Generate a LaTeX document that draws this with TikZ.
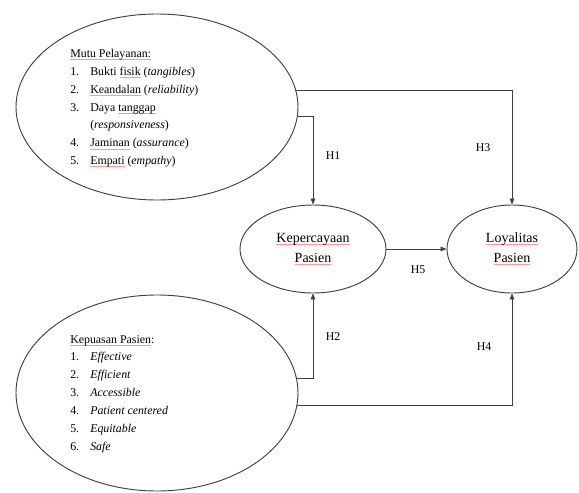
\documentclass[tikz,border=0pt]{standalone}
\usepackage{fontspec}
\setmainfont{Liberation Serif}
\usetikzlibrary{shapes.geometric, arrows.meta}

\newsavebox\spellbox
\newcommand{\spell}[1]{\sbox\spellbox{#1}\rlap{\color{red!40}\rule[-1.6pt]{\wd\spellbox}{0.35pt}}\usebox\spellbox}
\newcommand{\nomor}[1]{\makebox[15pt][l]{#1}}

\begin{document}
\begin{tikzpicture}[x=0.75pt,y=-0.75pt,
                font=\fontsize{8.9}{13.4}\selectfont,
                var/.style={ellipse,draw=black!75,line width=0.7pt,inner sep=0pt},
                label/.style={font=\fontsize{10.5}{15}\selectfont,align=center},
                link/.style={draw=black!75,line width=0.6pt,-{Triangle[length=4.5pt,width=3.5pt]}}]
                \useasboundingbox (0,0) rectangle (579,493);
                \node[var,minimum width=211.5pt,minimum height=139.5pt] (mutu) at (157,107) {};
                \node[var,minimum width=211.5pt,minimum height=147pt] (puas) at (157,393) {};
                \node[var,label,minimum width=109.5pt,minimum height=66pt] (percaya) at (313,249) {\spell{Kepercayaan}\\\spell{Pasien}};
                \node[var,label,minimum width=97.5pt,minimum height=66pt] (loyal) at (512,249) {\spell{Loyalitas}\\\spell{Pasien}};
                \node[anchor=north west,inner sep=0pt,align=left] (mututext) at (70,49) {\spell{Mutu Pelayanan:}\\
                    \nomor{1.}Bukti \spell{fisik} (\textit{tangibles})\\
                    \nomor{2.}\spell{Keandalan} (\textit{reliability})\\
                    \nomor{3.}Daya \spell{tanggap}\\
                    \hspace*{15pt}(\textit{responsiveness})\\
                    \nomor{4.}\spell{Jaminan} (\textit{assurance})\\
                    \nomor{5.}\spell{Empati} (\textit{empathy})};
                \node[anchor=north west,inner sep=0pt,align=left] (puastext) at (70,335) {\spell{Kepuasan Pasien}:\\
                    \nomor{1.}\textit{Effective}\\
                    \nomor{2.}\textit{Efficient}\\
                    \nomor{3.}\textit{Accessible}\\
                    \nomor{4.}\textit{Patient centered}\\
                    \nomor{5.}\textit{Equitable}\\
                    \nomor{6.}\textit{Safe}};
                \draw[link] (mutu.7) -| (loyal.north);
                \draw[link] (mutu.-4) -| (percaya.north);
                \draw[link] (puas.6) -| (percaya.south);
                \draw[link] (puas.-5) -| (loyal.south);
                \draw[link] (percaya) -- (loyal);
                \foreach \h/\x/\y in {H1/333/156,H2/333/337,H3/483/148,H4/484/347,H5/418/270}
                    \node (\h) at (\x,\y) {\h};
            \end{tikzpicture}
\end{document}
